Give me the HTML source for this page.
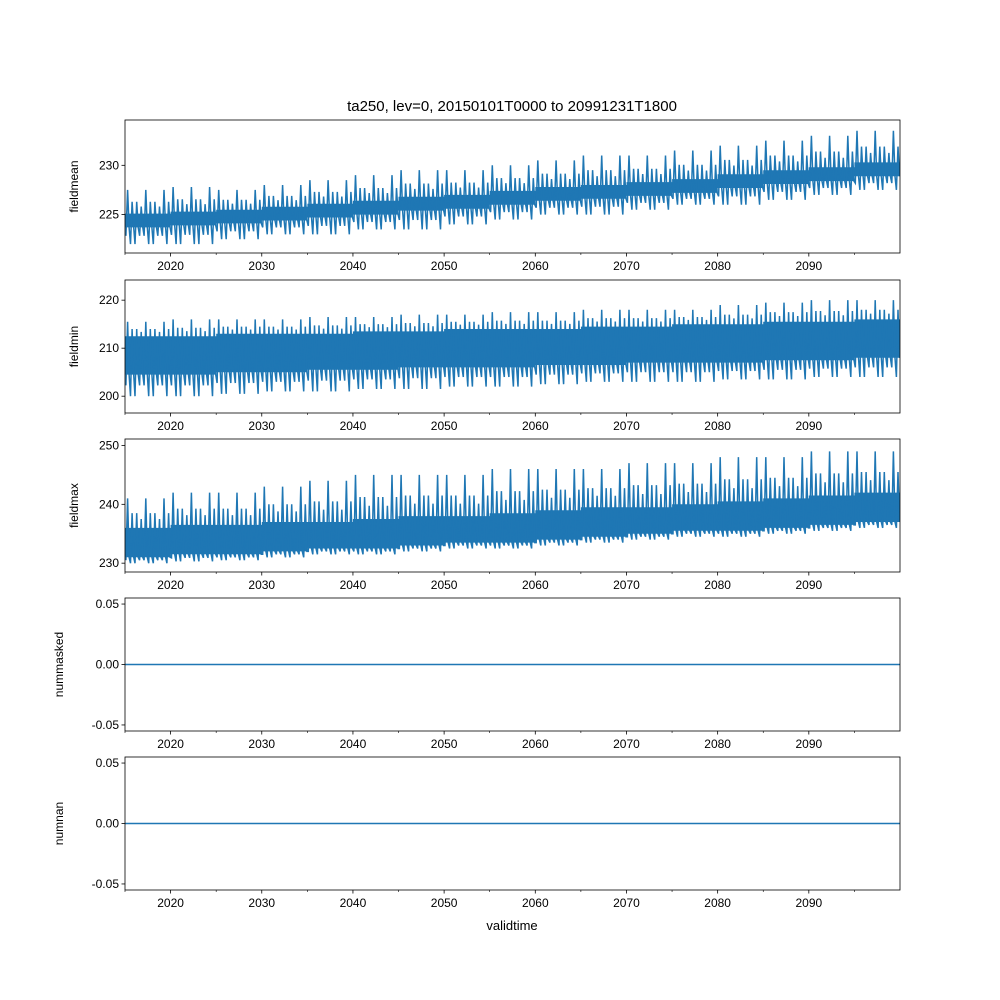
<!DOCTYPE html>
<html><head><meta charset="utf-8"><style>
html,body{margin:0;padding:0;background:#fff}
svg{display:block;font-family:"Liberation Sans","DejaVu Sans",sans-serif}
</style></head><body>
<svg id="chart" width="1000" height="1000" viewBox="0 0 1000 1000" xmlns="http://www.w3.org/2000/svg">
<rect width="1000" height="1000" fill="#fff"/>
<text x="512" y="111" font-size="15" text-anchor="middle">ta250, lev=0, 20150101T0000 to 20991231T1800</text>
<text x="512" y="930" font-size="13" text-anchor="middle">validtime</text>
</svg>
<script>
// 5-year bins starting 2015
const binStart = [2015,2020,2025,2030,2035,2040,2045,2050,2055,2060,2065,2070,2075,2080,2085,2090,2095];
const xTicks = [2020,2030,2040,2050,2060,2070,2080,2090];
// fieldmean
const meanHi = [227.5,227.8,227.5,228,228.5,229,229.5,229.5,230,230.5,231,231,231.5,232,232.5,233,233.5];
const meanLo = [222,222,222.5,223,223,223.5,223.5,224,224.5,225,225,225.5,226,226,226.5,227,227.5];
const meanBandLo = [223.7,223.9,224.1,224.4,224.7,225,225.4,225.6,226,226.4,226.6,226.9,227.2,227.7,228.1,228.4,228.9];
const meanBandHi = [225.1,225.3,225.5,225.8,226.1,226.4,226.8,227,227.4,227.8,228,228.3,228.6,229.1,229.5,229.8,230.3];
// fieldmin
const minHi = [215.5,216,216,216,216.5,216.5,217,217,217.5,217.5,218,218,218,219,219.5,220,220];
const minLo = [200,200,200.5,201,201,201.5,201.5,202,202,202.5,203,203,203,203.5,203.5,204,204];
const minBandLo = [204.5,204.5,205,205,205.5,205.5,206,206,206,206.5,206.5,207,207,207,207.5,207.5,208];
const minBandHi = [212.5,212.5,213,213,213,213.5,213.5,214,214,214,214.5,214.5,215,215,215.5,215.5,216];
// fieldmax
const maxHi = [241,242,242,243,244,245,245,245,246,246,246,247,247,248,248,249,249];
const maxLo = [230,230.3,230.5,231,231.5,231.5,232,232.5,232.5,233,233.5,234,234.5,234.5,235,235.5,236];
const maxBandLo = [231,231.5,231.5,232,232.5,232.5,233,233.5,233.5,234,234.5,235,235.5,235.5,236,236.5,237];
const maxBandHi = [236,236.5,236.5,237,237,237.5,238,238,238.5,239,239.5,239.5,240,240.5,241,241.5,242];
// counts
const maskedVals = [0,0];
const nanVals = [0,0];

const NS="http://www.w3.org/2000/svg";
const svg=document.getElementById('chart');
const X0=125,X1=900;
const xs=t=>X0+(t-2015)/(2100-2015)*(X1-X0);
function el(tag,attrs,parent){const e=document.createElementNS(NS,tag);for(const k in attrs)e.setAttribute(k,attrs[k]);(parent||svg).appendChild(e);return e;}

const panels=[
 {name:'fieldmean',top:120,bot:253,ymin:221.1,ymax:234.6,ticks:[225,230],fmt:v=>v.toFixed(0),series:[meanHi,meanLo,meanBandLo,meanBandHi],lx:78},
 {name:'fieldmin',top:280,bot:413,ymin:196.5,ymax:224.2,ticks:[200,210,220],fmt:v=>v.toFixed(0),series:[minHi,minLo,minBandLo,minBandHi],lx:78},
 {name:'fieldmax',top:439,bot:572,ymin:228.5,ymax:251.1,ticks:[230,240,250],fmt:v=>v.toFixed(0),series:[maxHi,maxLo,maxBandLo,maxBandHi],lx:78},
 {name:'nummasked',top:598,bot:731,ymin:-0.055,ymax:0.055,ticks:[-0.05,0,0.05],fmt:v=>v.toFixed(2),flat:maskedVals,lx:63},
 {name:'numnan',top:757,bot:890,ymin:-0.055,ymax:0.055,ticks:[-0.05,0,0.05],fmt:v=>v.toFixed(2),flat:nanVals,lx:63},
];

panels.forEach(p=>{
 const g=el('g',{});
 
 
 const ys=v=>p.bot-(v-p.ymin)/(p.ymax-p.ymin)*(p.bot-p.top);
 const clipId='clip-'+p.name;
 const cp=el('clipPath',{id:clipId},g);
 el('rect',{x:X0,y:p.top,width:X1-X0,height:p.bot-p.top},cp);
 const dg=el('g',{'clip-path':'url(#'+clipId+')'},g);
 if(p.flat){
  const ln=el('line',{x1:X0,x2:X1,y1:ys(p.flat[0]),y2:ys(p.flat[1]),stroke:'#1f77b4','stroke-width':1.5},dg);
  
  
 } else {
  const [hi,lo,bl,bh]=p.series;
  let top=[],bot=[];
  binStart.forEach((b,i)=>{top.push([xs(b),ys(bh[i])],[xs(b+5),ys(bh[i])]);bot.push([xs(b),ys(bl[i])],[xs(b+5),ys(bl[i])]);});
  const pts=top.concat(bot.reverse()).map(q=>q[0].toFixed(1)+','+q[1].toFixed(1)).join(' ');
  const band=el('polygon',{points:pts,fill:'#1f77b4'},dg);
  
  
  let d=[];
  binStart.forEach((b,i)=>{
   for(let y=0;y<5;y++){
    const t=b+y;
    const alt=(y%2===0);
    const h1=alt?hi[i]:(hi[i]+bh[i])/2, h2=alt?(hi[i]+bh[i])/2:hi[i]*0.3+bh[i]*0.7;
    const l1=alt?(lo[i]+bl[i])/2:lo[i], l2=alt?lo[i]:(lo[i]+bl[i])/2;
    d.push([t+0.1,l1],[t+0.28,h1],[t+0.45,bl[i]],[t+0.6,l2],[t+0.78,h2],[t+0.95,bl[i]]);
   }
  });
  const path=el('polyline',{points:d.map(q=>xs(q[0]).toFixed(1)+','+ys(q[1]).toFixed(1)).join(' '),fill:'none',stroke:'#1f77b4','stroke-width':1.5},dg);
  
  
 }
 el('rect',{x:X0,y:p.top,width:X1-X0,height:p.bot-p.top,fill:'none',stroke:'#000','stroke-width':0.8},g);
 xTicks.forEach(t=>{
  el('line',{x1:xs(t),x2:xs(t),y1:p.bot,y2:p.bot+3.5,stroke:'#000','stroke-width':0.8},g);
  const tx=el('text',{x:xs(t),y:p.bot+17,'font-size':12,'text-anchor':'middle'},g);
  tx.textContent=t;
  
  
 });
 for(let t=2015;t<=2100;t+=5){if(t%10===0)continue;el('line',{x1:xs(t),x2:xs(t),y1:p.bot,y2:p.bot+2,stroke:'#000','stroke-width':0.6},g);}
 p.ticks.forEach(v=>{
  el('line',{x1:X0-3.5,x2:X0,y1:ys(v),y2:ys(v),stroke:'#000','stroke-width':0.8},g);
  const tx=el('text',{x:X0-6,y:ys(v)+4,'font-size':12,'text-anchor':'end'},g);
  tx.textContent=p.fmt(v);
  
  
 });
 const yl=el('text',{x:p.lx,y:(p.top+p.bot)/2,'font-size':12,'text-anchor':'middle',transform:'rotate(-90 '+p.lx+' '+(p.top+p.bot)/2+')'},g);
 yl.textContent=p.name;
 
 
});
</script>
</body></html>
